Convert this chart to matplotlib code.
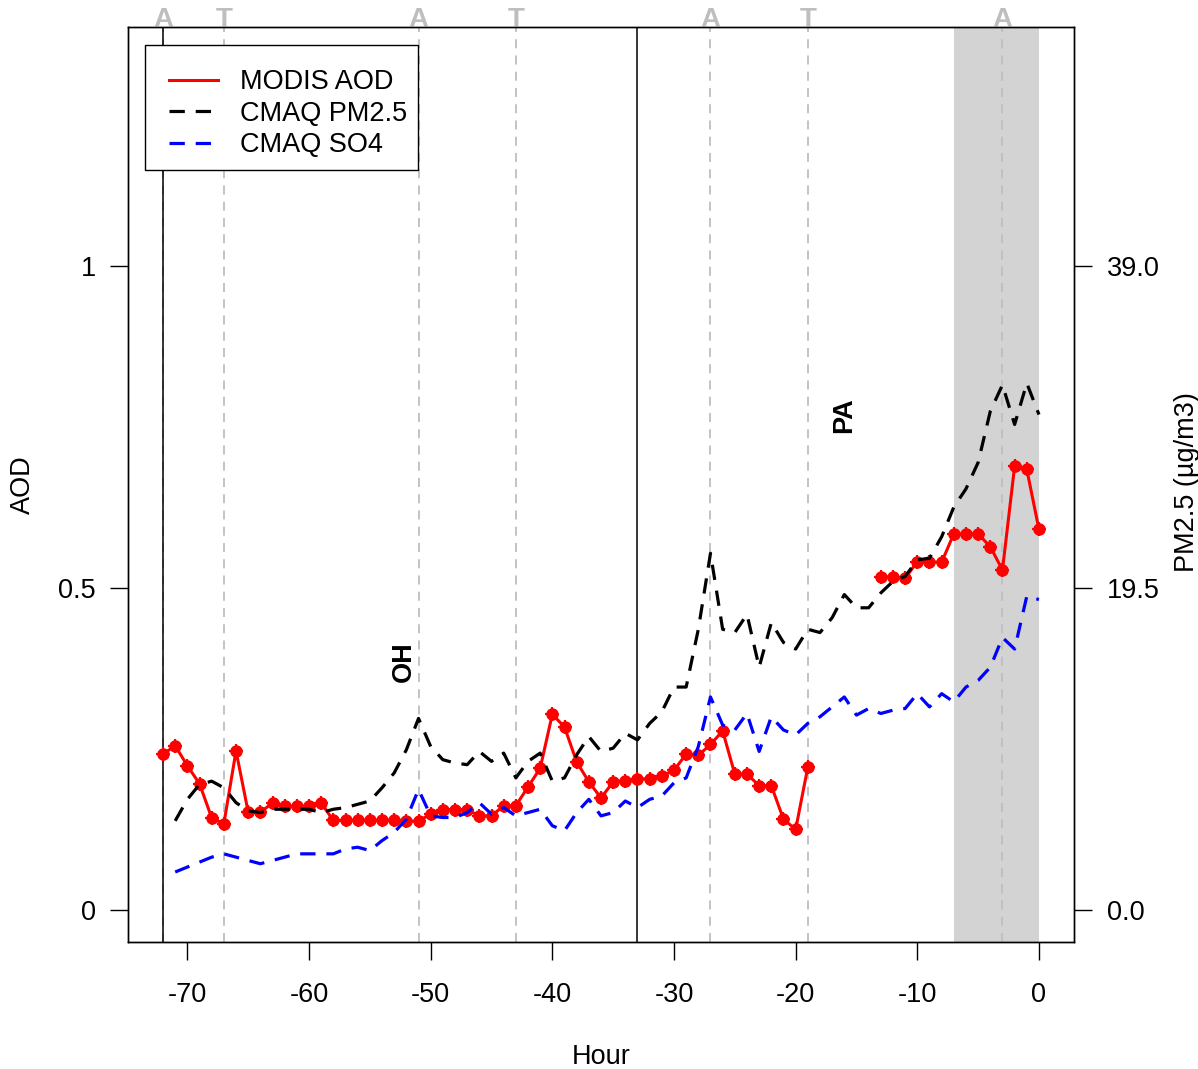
import numpy as np
import matplotlib
matplotlib.use("Agg")
import matplotlib.pyplot as plt
import matplotlib.transforms as mtransforms
from matplotlib.lines import Line2D
from matplotlib.patches import Rectangle

plt.rcParams["font.family"] = ["Liberation Sans", "DejaVu Sans"]
plt.rcParams["axes.unicode_minus"] = False

# hourly MODIS AOD (-72 .. 0), gap where no retrieval
HOURS = list(range(-72, 1))
AOD = [0.242, 0.255, 0.224, 0.196, 0.143, 0.134, 0.247, 0.152, 0.152, 0.166,
       0.161, 0.161, 0.161, 0.166, 0.139, 0.139, 0.139, 0.139, 0.139, 0.139,
       0.138, 0.138, 0.149, 0.156, 0.156, 0.156, 0.146, 0.146, 0.162, 0.162,
       0.191, 0.220, 0.304, 0.284, 0.230, 0.199, 0.174, 0.199, 0.201, 0.203,
       0.204, 0.208, 0.217, 0.242, 0.240, 0.257, 0.278, 0.211, 0.211, 0.193,
       0.193, 0.141, 0.125, 0.222,
       np.nan, np.nan, np.nan, np.nan, np.nan,
       0.517, 0.517, 0.515, 0.541, 0.540, 0.540, 0.584, 0.584, 0.584, 0.564,
       0.528, 0.689, 0.684, 0.591]

# CMAQ model series (-71 .. 0), ug/m3
CMAQ_HOURS = list(range(-71, 1))
PM25 = [5.4, 6.7, 7.6, 7.8, 7.4, 6.5, 6.0, 5.9, 6.1, 6.1,
        6.1, 6.1, 5.9, 6.1, 6.2, 6.4, 6.6, 7.4, 8.3, 9.7,
        11.6, 9.9, 9.1, 8.9, 8.8, 9.6, 9.0, 9.5, 8.0, 9.0,
        9.5, 7.8, 8.0, 9.4, 10.5, 9.6, 9.8, 10.7, 10.3, 11.3,
        12.0, 13.5, 13.5, 17.0, 21.6, 17.0, 16.8, 17.9, 14.7, 17.4,
        16.2, 15.8, 17.0, 16.8, 17.7, 19.1, 18.3, 18.3, 19.2, 19.9,
        20.2, 21.2, 21.3, 22.6, 24.4, 25.5, 27.1, 30.2, 31.8, 29.4,
        31.9, 30.0]
SO4 = [2.3, 2.6, 2.9, 3.2, 3.4, 3.2, 3.0, 2.8, 3.0, 3.2,
       3.4, 3.4, 3.4, 3.4, 3.7, 3.8, 3.6, 4.2, 4.7, 5.5,
       7.3, 5.7, 5.6, 5.6, 5.9, 6.5, 5.8, 6.2, 5.7, 5.9,
       6.1, 5.1, 4.8, 5.9, 6.7, 5.7, 5.9, 6.6, 6.2, 6.7,
       6.9, 7.7, 8.0, 9.9, 12.9, 11.2, 10.9, 11.9, 9.6, 11.7,
       10.9, 10.6, 11.3, 11.7, 12.3, 12.9, 11.8, 12.2, 11.9, 12.1,
       12.2, 13.1, 12.3, 13.1, 12.6, 13.5, 13.9, 14.7, 16.5, 15.8,
       19.0, 18.8]

# trajectory markers along the top
EVENT_HOURS = [-72, -67, -51, -43, -27, -19, -3]
EVENT_TAGS = ["A", "T", "A", "T", "A", "T", "A"]
SOLID_HOURS = [-72, -33]
SHADE = (-7, 0)
NOTES = [("OH", -52.2, 0.385), ("PA", -16.0, 0.769)]
PM_PER_AOD = 39.0
FS = 19.5

W, H = 1198, 1069
fig = plt.figure(figsize=(W / 100, H / 100), dpi=100)
ax = fig.add_axes([128 / W, 1 - 942 / H, (1074 - 128) / W, (942 - 27) / H])
ax.set_xlim(-74.88, 2.88)
ylo, yhi = -0.0497, 1.371
ax.set_ylim(ylo, yhi)

ax.axvspan(SHADE[0], SHADE[1], color="#D3D3D3", lw=0, zorder=0)
for h in EVENT_HOURS:
    ax.axvline(h, color="#BEBEBE", lw=1.3, ls=(0, (5, 4)), zorder=1)
for h in SOLID_HOURS:
    ax.axvline(h, color="black", lw=1.1, zorder=1.5)

ax.plot(HOURS, AOD, color="red", lw=2.2, marker="o", ms=8, zorder=3)
ax.plot(HOURS, AOD, color="red", ls="none", marker="+", ms=10.5, mew=1.6, zorder=3)

trans = mtransforms.blended_transform_factory(ax.transData, ax.transAxes)
for h, tag in zip(EVENT_HOURS, EVENT_TAGS):
    ax.text(h, 1.0, tag, transform=trans, ha="center", va="baseline", color="#BEBEBE",
            fontweight="bold", fontsize=FS + 0.5, clip_on=False)
for txt, x, y in NOTES:
    ax.text(x, y, txt, rotation=90, ha="center", va="center", fontweight="bold", fontsize=FS)

ax2 = ax.twinx()
ax2.set_ylim(ylo * PM_PER_AOD, yhi * PM_PER_AOD)
ax2.plot(CMAQ_HOURS, PM25, color="black", lw=2.3, dashes=(4.8, 3.4))
ax2.plot(CMAQ_HOURS, SO4, color="blue", lw=2.3, dashes=(4.8, 3.4))

ax.set_xticks(range(-70, 1, 10))
ax.set_yticks([0, 0.5, 1])
ax.set_yticklabels(["0", "0.5", "1"])
ax2.set_yticks([0, 19.5, 39.0])
ax2.set_yticklabels(["0.0", "19.5", "39.0"])
ax.tick_params(axis="x", direction="out", length=13, width=1, labelsize=FS, pad=16)
ax.tick_params(axis="y", direction="out", length=13, width=1, labelsize=FS, pad=10)
ax2.tick_params(axis="y", direction="out", length=13, width=1, labelsize=FS, pad=11)
for a in (ax, ax2):
    for s in a.spines.values():
        s.set_linewidth(1.0)

fig.text(601 / W, 1 - 1057 / H, "Hour", ha="center", va="center", fontsize=FS)
fig.text(23 / W, 1 - 485 / H, "AOD", rotation=90, ha="center", va="center", fontsize=FS)
fig.text(1187 / W, 1 - 482 / H, "PM2.5 (µg/m3)", rotation=90, ha="center", va="center",
         fontsize=FS)

# legend box drawn separately (R-style: wider top margin, tight right margin)
ax2.add_patch(Rectangle((145 / W, 1 - 170 / H), 273 / W, 125 / H, transform=fig.transFigure,
                        facecolor="white", edgecolor="black", lw=1.0, zorder=4.5,
                        clip_on=False))
handles = [Line2D([], [], color="red", lw=2.2),
           Line2D([], [], color="black", lw=2.3, dashes=(4.8, 3.4)),
           Line2D([], [], color="blue", lw=2.3, dashes=(4.8, 3.4))]
leg = ax2.legend(handles, ["MODIS AOD", "CMAQ PM2.5", "CMAQ SO4"], loc="upper left",
                 bbox_to_anchor=((145 - 128) / 946, (942 - 45) / 915), fontsize=FS,
                 frameon=False, borderaxespad=0, borderpad=0.9, labelspacing=0.2,
                 handlelength=1.8, handletextpad=0.8)
leg.set_zorder(5)

fig.savefig("out.png", dpi=100)
